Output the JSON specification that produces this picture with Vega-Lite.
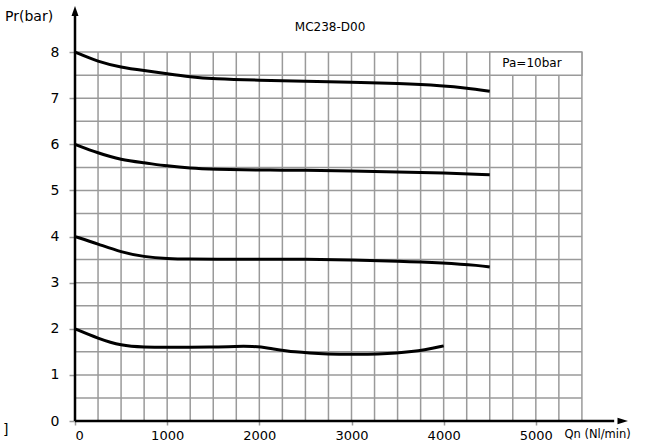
{
  "$schema": "https://vega.github.io/schema/vega-lite/v6.json",
  "width": 553,
  "height": 415,
  "autosize": "none",
  "padding": {"left": 75, "top": 6, "right": 31, "bottom": 22},
  "background": "white",
  "config": {"view": {"stroke": null}, "font": "DejaVu Sans"},
  "datasets": {
    "vgrid": [{"q":0},{"q":250},{"q":500},{"q":750},{"q":1000},{"q":1250},{"q":1500},{"q":1750},{"q":2000},{"q":2250},{"q":2500},{"q":2750},{"q":3000},{"q":3250},{"q":3500},{"q":3750},{"q":4000},{"q":4250},{"q":4500},{"q":4750},{"q":5000},{"q":5250},{"q":5500}],
    "hgrid": [{"p":0},{"p":0.5},{"p":1},{"p":1.5},{"p":2},{"p":2.5},{"p":3},{"p":3.5},{"p":4},{"p":4.5},{"p":5},{"p":5.5},{"p":6},{"p":6.5},{"p":7},{"p":7.5},{"p":8}],
    "curves": [
      {"s":"8","q":0,"p":8.0},{"s":"8","q":250,"p":7.79},{"s":"8","q":500,"p":7.67},{"s":"8","q":750,"p":7.6},{"s":"8","q":1000,"p":7.53},{"s":"8","q":1250,"p":7.46},{"s":"8","q":1500,"p":7.42},{"s":"8","q":2000,"p":7.39},{"s":"8","q":2500,"p":7.37},{"s":"8","q":3000,"p":7.35},{"s":"8","q":3500,"p":7.32},{"s":"8","q":4000,"p":7.27},{"s":"8","q":4250,"p":7.22},{"s":"8","q":4500,"p":7.15},
      {"s":"6","q":0,"p":6.0},{"s":"6","q":250,"p":5.81},{"s":"6","q":500,"p":5.66},{"s":"6","q":750,"p":5.6},{"s":"6","q":1000,"p":5.53},{"s":"6","q":1250,"p":5.48},{"s":"6","q":1500,"p":5.46},{"s":"6","q":2000,"p":5.44},{"s":"6","q":2500,"p":5.44},{"s":"6","q":3000,"p":5.42},{"s":"6","q":3500,"p":5.4},{"s":"6","q":4000,"p":5.38},{"s":"6","q":4500,"p":5.34},
      {"s":"4","q":0,"p":4.0},{"s":"4","q":250,"p":3.84},{"s":"4","q":500,"p":3.66},{"s":"4","q":750,"p":3.56},{"s":"4","q":1000,"p":3.52},{"s":"4","q":1250,"p":3.51},{"s":"4","q":1500,"p":3.51},{"s":"4","q":2000,"p":3.51},{"s":"4","q":2500,"p":3.51},{"s":"4","q":3000,"p":3.49},{"s":"4","q":3500,"p":3.47},{"s":"4","q":4000,"p":3.43},{"s":"4","q":4400,"p":3.37},{"s":"4","q":4500,"p":3.34},
      {"s":"2","q":0,"p":2.0},{"s":"2","q":250,"p":1.79},{"s":"2","q":500,"p":1.63},{"s":"2","q":750,"p":1.6},{"s":"2","q":1000,"p":1.6},{"s":"2","q":1500,"p":1.6},{"s":"2","q":1750,"p":1.62},{"s":"2","q":1930,"p":1.62},{"s":"2","q":2080,"p":1.59},{"s":"2","q":2370,"p":1.49},{"s":"2","q":2770,"p":1.45},{"s":"2","q":3020,"p":1.44},{"s":"2","q":3520,"p":1.47},{"s":"2","q":3810,"p":1.54},{"s":"2","q":4000,"p":1.63}
    ],
    "leftText": [
      {"q":-759,"p":8.76,"t":"Pr(bar)"},
      {"q":-780,"p":-0.2,"t":"]"}
    ],
    "axisText": [
      {"q":5310,"p":-0.3,"t":"Qn (Nl/min)"}
    ],
    "centerText": [
      {"q":2767,"p":8.55,"t":"MC238-D00"},
      {"q":4958,"p":7.77,"t":"Pa=10bar"}
    ]
  },
  "layer": [
    {
      "data": {"name": "vgrid"},
      "mark": {"type": "rule", "color": "#9a9a9a", "strokeWidth": 1.5},
      "encoding": {
        "x": {"field": "q", "type": "quantitative", "scale": {"domain": [0, 6000], "nice": false, "zero": false},
              "axis": {"title": null, "values": [0,1000,2000,3000,4000,5000], "format": "d", "grid": false, "domain": false, "tickColor": "#9a9a9a", "tickSize": 4, "tickWidth": 1.5, "labelFontSize": 13, "labelPadding": 4, "labelColor": "black", "labelFont": "DejaVu Sans"}},
        "y": {"datum": 0, "type": "quantitative", "scale": {"domain": [0, 9], "nice": false, "zero": false},
              "axis": {"title": null, "values": [0,1,2,3,4,5,6,7,8], "grid": false, "domain": false, "tickColor": "#9a9a9a", "tickSize": 6, "tickWidth": 1.5, "labelFontSize": 14, "labelPadding": 10, "labelColor": "black", "labelFont": "DejaVu Sans"}},
        "y2": {"datum": 8}
      }
    },
    {
      "data": {"name": "hgrid"},
      "mark": {"type": "rule", "color": "#9a9a9a", "strokeWidth": 1.5},
      "encoding": {
        "y": {"field": "p", "type": "quantitative"},
        "x": {"datum": 0, "type": "quantitative"},
        "x2": {"datum": 5500}
      }
    },
    {
      "data": {"values": [{"a": 1}]},
      "mark": {"type": "rect", "fill": "white", "stroke": "#9a9a9a", "strokeWidth": 1.5},
      "encoding": {
        "x": {"datum": 4500, "type": "quantitative"},
        "x2": {"datum": 5500},
        "y": {"datum": 7.5, "type": "quantitative"},
        "y2": {"datum": 8}
      }
    },
    {
      "data": {"name": "curves"},
      "mark": {"type": "line", "color": "black", "strokeWidth": 3, "interpolate": "basis"},
      "encoding": {
        "x": {"field": "q", "type": "quantitative"},
        "y": {"field": "p", "type": "quantitative"},
        "detail": {"field": "s", "type": "nominal"}
      }
    },
    {
      "data": {"values": [{"a": 1}]},
      "mark": {"type": "rule", "color": "black", "strokeWidth": 2.5},
      "encoding": {
        "x": {"datum": 0, "type": "quantitative"},
        "y": {"datum": 0, "type": "quantitative"},
        "y2": {"datum": 8.8}
      }
    },
    {
      "data": {"values": [{"a": 1}]},
      "mark": {"type": "rule", "color": "black", "strokeWidth": 2.5},
      "encoding": {
        "y": {"datum": 0, "type": "quantitative"},
        "x": {"datum": 0, "type": "quantitative"},
        "x2": {"datum": 5850}
      }
    },
    {
      "data": {"values": [{"a": 1}]},
      "mark": {"type": "point", "shape": "M0,0L-0.35,1L0.35,1Z", "filled": true, "color": "black", "opacity": 1, "size": 400},
      "encoding": {
        "x": {"datum": 0, "type": "quantitative"},
        "y": {"datum": 9, "type": "quantitative"}
      }
    },
    {
      "data": {"values": [{"a": 1}]},
      "mark": {"type": "point", "shape": "M0,0L-1,-0.3L-1,0.3Z", "filled": true, "color": "black", "opacity": 1, "size": 441},
      "encoding": {
        "x": {"datum": 6000, "type": "quantitative"},
        "y": {"datum": 0, "type": "quantitative"}
      }
    },
    {
      "data": {"name": "leftText"},
      "mark": {"type": "text", "align": "left", "baseline": "middle", "fontSize": 14, "font": "DejaVu Sans", "color": "black"},
      "encoding": {
        "x": {"field": "q", "type": "quantitative"},
        "y": {"field": "p", "type": "quantitative"},
        "text": {"field": "t"}
      }
    },
    {
      "data": {"name": "axisText"},
      "mark": {"type": "text", "align": "left", "baseline": "middle", "fontSize": 11.5, "font": "DejaVu Sans", "color": "black"},
      "encoding": {
        "x": {"field": "q", "type": "quantitative"},
        "y": {"field": "p", "type": "quantitative"},
        "text": {"field": "t"}
      }
    },
    {
      "data": {"name": "centerText"},
      "mark": {"type": "text", "align": "center", "baseline": "middle", "fontSize": 12, "font": "DejaVu Sans", "color": "black"},
      "encoding": {
        "x": {"field": "q", "type": "quantitative"},
        "y": {"field": "p", "type": "quantitative"},
        "text": {"field": "t"}
      }
    }
  ]
}
